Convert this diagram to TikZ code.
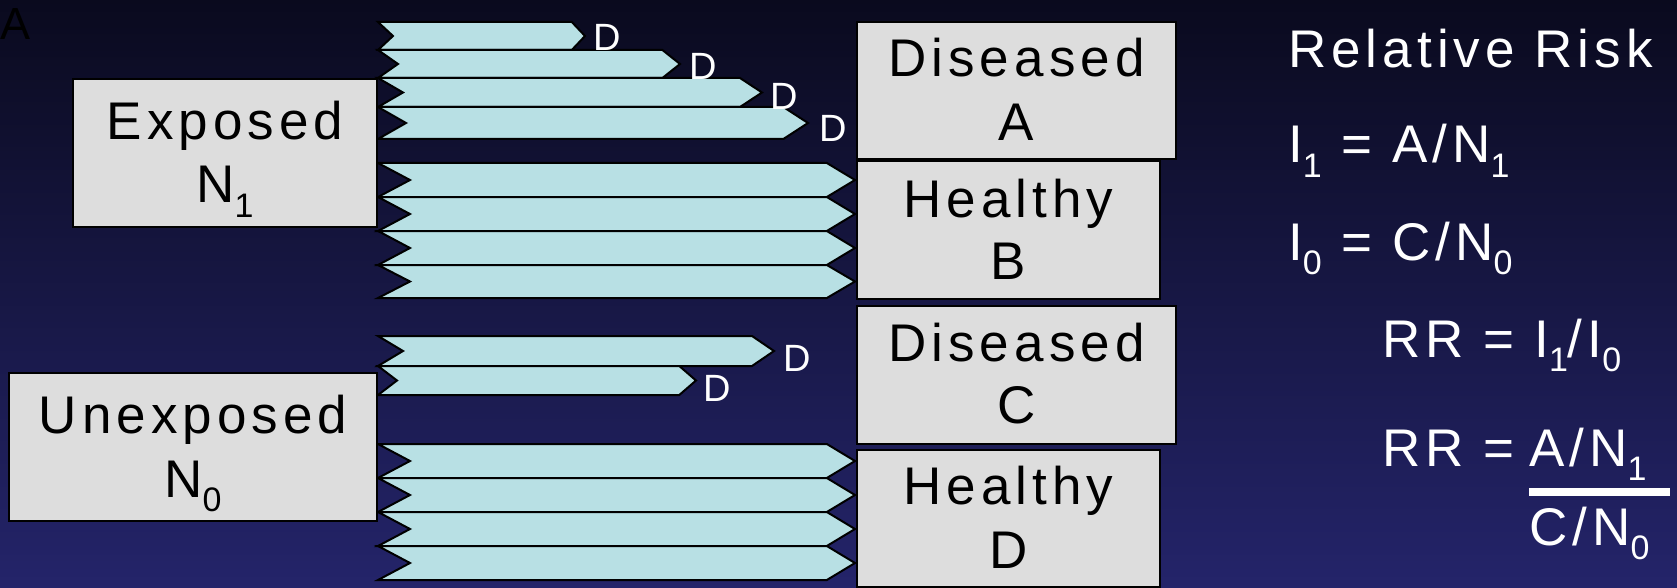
\documentclass[tikz,border=0pt]{standalone}
\usepackage{fontspec}
\setmainfont{Liberation Sans}[LetterSpace=9.5]
\definecolor{bgtop}{RGB}{10,10,30}
\definecolor{bgbot}{RGB}{36,36,106}
\definecolor{boxfill}{RGB}{221,221,221}
\definecolor{chevfill}{RGB}{184,224,228}
\newcommand{\bigtext}{\fontsize{53}{60}\selectfont}
\newcommand{\dtext}{\fontsize{38}{40}\selectfont}
\newcommand{\atext}{\fontsize{45}{48}\selectfont}
\newcommand{\sbs}[1]{\raisebox{-14.5pt}{\fontsize{34}{34}\selectfont #1}}
\tikzset{
  box/.style={draw=black, line width=2.5pt, fill=boxfill, inner sep=0pt},
  chevstyle/.style={draw=black, line width=2pt, fill=chevfill, line join=miter},
  lbl/.style={font=\bigtext, text=black, inner sep=0pt, anchor=base},
  wlbl/.style={font=\bigtext, text=white, inner sep=0pt, anchor=base west},
  dlbl/.style={font=\dtext, text=white, inner sep=0pt},
}
\newcommand{\chev}[4]{%
  \pgfmathsetmacro{\chevmid}{(#1+#2)/2}%
  \pgfmathsetmacro{\chevend}{#3-0.88*#4}%
  \draw[chevstyle] (378,#1) -- (\chevend,#1) -- (#3,\chevmid) -- (\chevend,#2) -- (378,#2) -- (378+#4,\chevmid) -- cycle;}
\begin{document}
\begin{tikzpicture}[x=1pt,y=-1pt]
\useasboundingbox (0,0) rectangle (1677,588);
\shade[top color=bgtop, bottom color=bgbot] (0,0) rectangle (1677,588);
% top-left label
\node[font=\atext, text=black, inner sep=0pt, anchor=base west] (corner) at (0,40) {A};
% exposed chevrons
\chev{22}{50}{585}{15}
\chev{50}{78}{680}{20}
\chev{78}{107}{762}{25}
\chev{107}{139}{808}{28}
\chev{163}{197}{855}{32}
\chev{197}{231}{855}{32}
\chev{231}{265}{855}{32}
\chev{265}{298}{855}{32}
% unexposed chevrons
\chev{336}{366}{774}{25}
\chev{366}{395}{696}{19}
\chev{444}{478}{855}{32}
\chev{478}{512}{855}{32}
\chev{512}{546}{855}{32}
\chev{546}{580}{855}{32}
% D labels
\node[dlbl] (d1) at (607,37) {D};
\node[dlbl] (d2) at (703,66) {D};
\node[dlbl] (d3) at (784,96) {D};
\node[dlbl] (d4) at (833,128) {D};
\node[dlbl] (d5) at (797,358) {D};
\node[dlbl] (d6) at (717,388) {D};
% boxes
\node[box, minimum width=304pt, minimum height=148pt] (exp) at (225,153) {};
\node[box, minimum width=368pt, minimum height=148pt] (unexp) at (193,447) {};
\node[box, minimum width=319pt, minimum height=137pt] (disA) at (1016.5,90.5) {};
\node[box, minimum width=303pt, minimum height=138pt] (heaB) at (1008.5,230) {};
\node[box, minimum width=319pt, minimum height=138pt] (disC) at (1016.5,375) {};
\node[box, minimum width=303pt, minimum height=137pt] (heaD) at (1008.5,518.5) {};
% box texts
\node[lbl] (expT1) at (225,140) {Exposed};
\node[lbl] (expT2) at (225,203) {N\sbs{1}};
\node[lbl] (unexpT1) at (193,433) {Unexposed};
\node[lbl] (unexpT2) at (193,497) {N\sbs{0}};
\node[lbl] (disAT1) at (1016.5,77) {Diseased};
\node[lbl] (disAT2) at (1016.5,141) {A};
\node[lbl] (heaBT1) at (1008.5,217) {Healthy};
\node[lbl] (heaBT2) at (1008.5,279) {B};
\node[lbl] (disCT1) at (1016.5,361) {Diseased};
\node[lbl] (disCT2) at (1016.5,423) {C};
\node[lbl] (heaDT1) at (1008.5,504) {Healthy};
\node[lbl] (heaDT2) at (1008.5,568) {D};
% right side
\node[wlbl] (rrtitle) at (1288,68) {Relative Risk};
\node[wlbl] (i1) at (1288,163) {I\sbs{1} = A/N\sbs{1}};
\node[wlbl] (i0) at (1288,260) {I\sbs{0} = C/N\sbs{0}};
\node[wlbl] (rr1) at (1382,357) {RR = I\sbs{1}/I\sbs{0}};
\node[wlbl] (rr2) at (1382,466) {RR =};
\node[wlbl] (num) at (1529,466) {A/N\sbs{1}};
\fill[white] (1529,488) rectangle (1670,496);
\node[wlbl] (den) at (1529,545) {C/N\sbs{0}};
\end{tikzpicture}
\end{document}
